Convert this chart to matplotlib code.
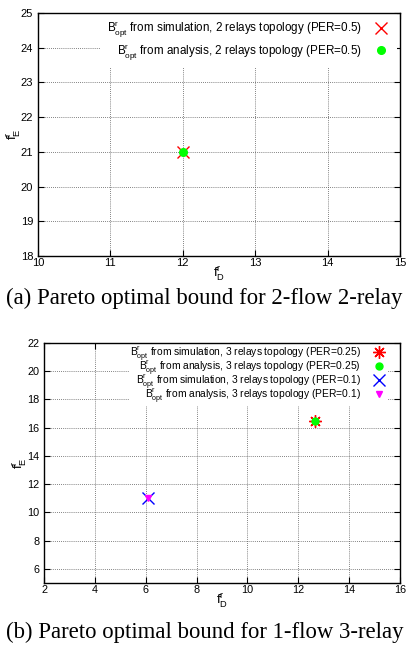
import matplotlib
matplotlib.use("Agg")
import matplotlib.pyplot as plt

plt.rcParams['font.family'] = ['Liberation Sans', 'DejaVu Sans']
plt.rcParams['mathtext.fontset'] = 'custom'
plt.rcParams['mathtext.rm'] = 'Liberation Sans'
plt.rcParams['mathtext.it'] = 'Liberation Sans:italic'

# (a) 2-flow 2-relay
a_sim_x = [12.0]
a_sim_y = [21.0]
a_ana_x = [12.0]
a_ana_y = [21.0]
a_xticks = [10, 11, 12, 13, 14, 15]
a_yticks = [18, 19, 20, 21, 22, 23, 24, 25]

# (b) 1-flow 3-relay
b_sim25_x = [12.65]
b_sim25_y = [16.5]
b_ana25_x = [12.65]
b_ana25_y = [16.5]
b_sim10_x = [6.1]
b_sim10_y = [11.05]
b_ana10_x = [6.1]
b_ana10_y = [11.05]
b_xticks = [2, 4, 6, 8, 10, 12, 14, 16]
b_yticks = [6, 8, 10, 12, 14, 16, 18, 20, 22]

B = r'B$^{\mathrm{r}}_{\mathrm{opt}}$'

fig = plt.figure(figsize=(4.09, 6.5), dpi=100)


def style(ax, fs):
    ax.grid(True, color='0.35', linestyle=(0, (1, 1.5)), linewidth=0.6)
    ax.tick_params(direction='in', top=True, right=True, length=4,
                   labelsize=fs)
    ax.tick_params(axis='x', pad=1.5)
    ax.tick_params(axis='y', pad=3.5)
    for s in ax.spines.values():
        s.set_linewidth(1.0)
    ax.set_axisbelow(True)


# ---- top chart
ax1 = fig.add_axes([0.0929, 0.606, 0.885, 0.374])
ax1.plot(a_sim_x, a_sim_y, 'x', color='#ff0000', markersize=8, mew=1.0,
         linestyle='none', label=B + ' from simulation, 2 relays topology (PER=0.5)')
ax1.plot(a_ana_x, a_ana_y, 'o', color='#00ff00', markersize=5.5,
         linestyle='none', label=B + ' from analysis, 2 relays topology (PER=0.5)')
ax1.set_xlim(10, 15)
ax1.set_ylim(18, 25)
ax1.set_xticks(a_xticks)
ax1.set_yticks(a_yticks)
style(ax1, 8)
ax1.set_xlabel(r'f$^{\mathrm{r}}_{\mathrm{D}}$', fontsize=9.5, labelpad=-3)
ax1.set_ylabel(r'f$^{\mathrm{r}}_{\mathrm{E}}$', fontsize=9.5, labelpad=-1)
leg1 = ax1.legend(loc='upper right', bbox_to_anchor=(0.991, 1.0),
                  markerfirst=False, fontsize=8.4,
                  frameon=True, fancybox=False, framealpha=1, edgecolor='none',
                  borderaxespad=0.0, borderpad=0.55, handlelength=1.6,
                  handletextpad=0.83, labelspacing=0.2)
leg1.set_zorder(1.5)
fig.text(0.5, 1 - 298 / 650, '(a) Pareto optimal bound for 2-flow 2-relay',
         ha='center', va='center', fontsize=16.4, family='Liberation Serif')

# ---- bottom chart
ax2 = fig.add_axes([0.1076, 0.1031, 0.870, 0.3692])
ax2.plot(b_sim25_x, b_sim25_y, marker=(8, 2, 0), color='#ff0000',
         markersize=9, mew=1.0, linestyle='none',
         label=B + ' from simulation, 3 relays topology (PER=0.25)')
ax2.plot(b_ana25_x, b_ana25_y, 'o', color='#00ff00', markersize=5,
         linestyle='none', label=B + ' from analysis, 3 relays topology (PER=0.25)')
ax2.plot(b_sim10_x, b_sim10_y, 'x', color='#0000ff', markersize=8, mew=1.0,
         linestyle='none', label=B + ' from simulation, 3 relays topology (PER=0.1)')
ax2.plot(b_ana10_x, b_ana10_y, 'v', color='#ff00ff', markersize=5,
         linestyle='none', label=B + ' from analysis, 3 relays topology (PER=0.1)')
ax2.set_xlim(2, 16)
ax2.set_ylim(5, 22)
ax2.set_xticks(b_xticks)
ax2.set_yticks(b_yticks)
style(ax2, 7.8)
ax2.set_xlabel(r'f$^{\mathrm{r}}_{\mathrm{D}}$', fontsize=9.5, labelpad=-3)
ax2.set_ylabel(r'f$^{\mathrm{r}}_{\mathrm{E}}$', fontsize=9.5, labelpad=-1)
leg2 = ax2.legend(loc='upper right', bbox_to_anchor=(0.967, 1.0),
                  markerfirst=False, fontsize=7.35,
                  frameon=True, fancybox=False, framealpha=1, edgecolor='none',
                  borderaxespad=0.0, borderpad=0.1, handlelength=1.6,
                  handletextpad=0.95, labelspacing=-0.45)
leg2.set_zorder(1.5)
fig.text(0.5, 1 - 632 / 650, '(b) Pareto optimal bound for 1-flow 3-relay',
         ha='center', va='center', fontsize=16.4, family='Liberation Serif')

fig.savefig('out.png', dpi=100)
